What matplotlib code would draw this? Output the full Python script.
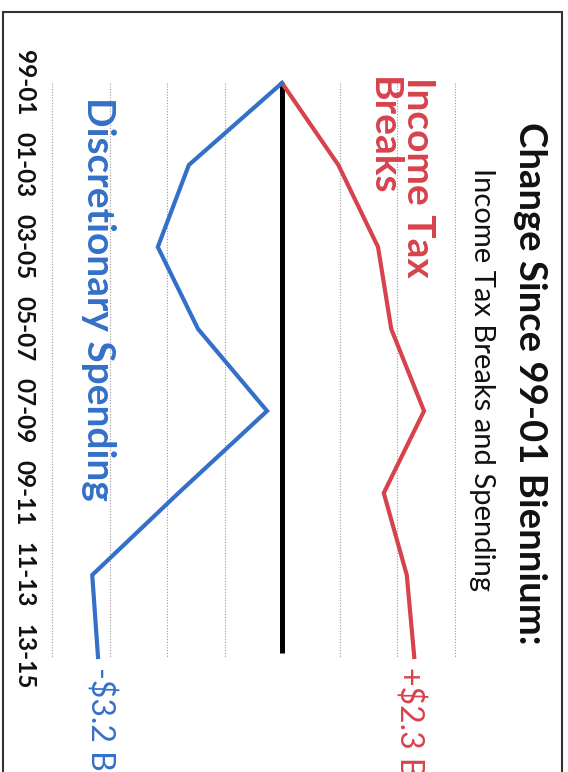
import matplotlib.pyplot as plt
from matplotlib.patches import Rectangle
import matplotlib.transforms as mtransforms

# data (billions of $, change since 99-01 biennium)
bienniums = ['99-01', '01-03', '03-05', '05-07', '07-09', '09-11', '11-13', '13-15']
tax_breaks = [0, 0.98, 1.67, 1.9, 2.47, 1.77, 2.17, 2.3]
spending = [0, -1.62, -2.16, -1.46, -0.26, -1.8, -3.3, -3.2]
grid_vals = [-4, -3, -2, -1, 1, 2, 3]

red = '#d6434c'
blue = '#3470c8'
W, H = 568, 772

plt.rcParams['font.family'] = ['Lato', 'DejaVu Sans']

fig = plt.figure(figsize=(W/100, H/100), dpi=100)
ax = fig.add_axes([0, 0, 1, 1])
# chart is drawn turned a quarter turn clockwise: values run left/right, bienniums top->bottom
ax.set_xlim(-282/57.5, (W-282)/57.5)
ax.set_ylim((H-83)/82, -83/82)
ax.axis('off')

pos = list(range(len(bienniums)))
ax.vlines(grid_vals, 0, pos[-1], colors='#9a9a9a', linestyles=(0, (1, 1.5)), lw=0.8)
ax.vlines(0, 0, pos[-1] - 0.05, colors='black', lw=3.6)
ax.plot(tax_breaks, pos, color=red, lw=3.0, solid_joinstyle='miter')
ax.plot(spending, pos, color=blue, lw=3.0, solid_joinstyle='miter')

trans = mtransforms.blended_transform_factory(ax.transAxes, ax.transData)
for p, lab in zip(pos, bienniums):
    ax.text(24/W, p, lab, transform=trans, rotation=-90, ha='center', va='center',
            fontsize=17.5, fontweight='bold', color='#111111')

def fx(x):
    return x / W

def fy(y):
    return 1 - y / H

fig.text(fx(530), fy(383), 'Change Since 99-01 Biennium:', rotation=-90,
         ha='center', va='center', fontsize=27.5, fontweight='bold', color='#111111')
fig.text(fx(482), fy(380), 'Income Tax Breaks and Spending', rotation=-90,
         ha='center', va='center', fontsize=21, color='#111111')
fig.text(fx(436), fy(77), 'Income Tax\nBreaks', rotation=-90, ha='right', va='top',
         multialignment='left', fontsize=28, fontweight='bold', color=red,
         linespacing=1.0)
fig.text(fx(98), fy(97), 'Discretionary Spending', rotation=-90, ha='center', va='top',
         fontsize=28, fontweight='bold', color=blue)
fig.text(fx(409), fy(667), '+$2.3 B', rotation=-90, ha='center', va='top',
         fontsize=23, color=red)
fig.text(fx(100), fy(667), '-$3.2 B', rotation=-90, ha='center', va='top',
         fontsize=23, color=blue)

fig.patches.append(Rectangle((fx(3), -0.02), fx(559), fy(12) + 0.02,
                             transform=fig.transFigure, fill=False,
                             edgecolor='#333333', lw=1.5))

fig.savefig('out.png', dpi=100)
